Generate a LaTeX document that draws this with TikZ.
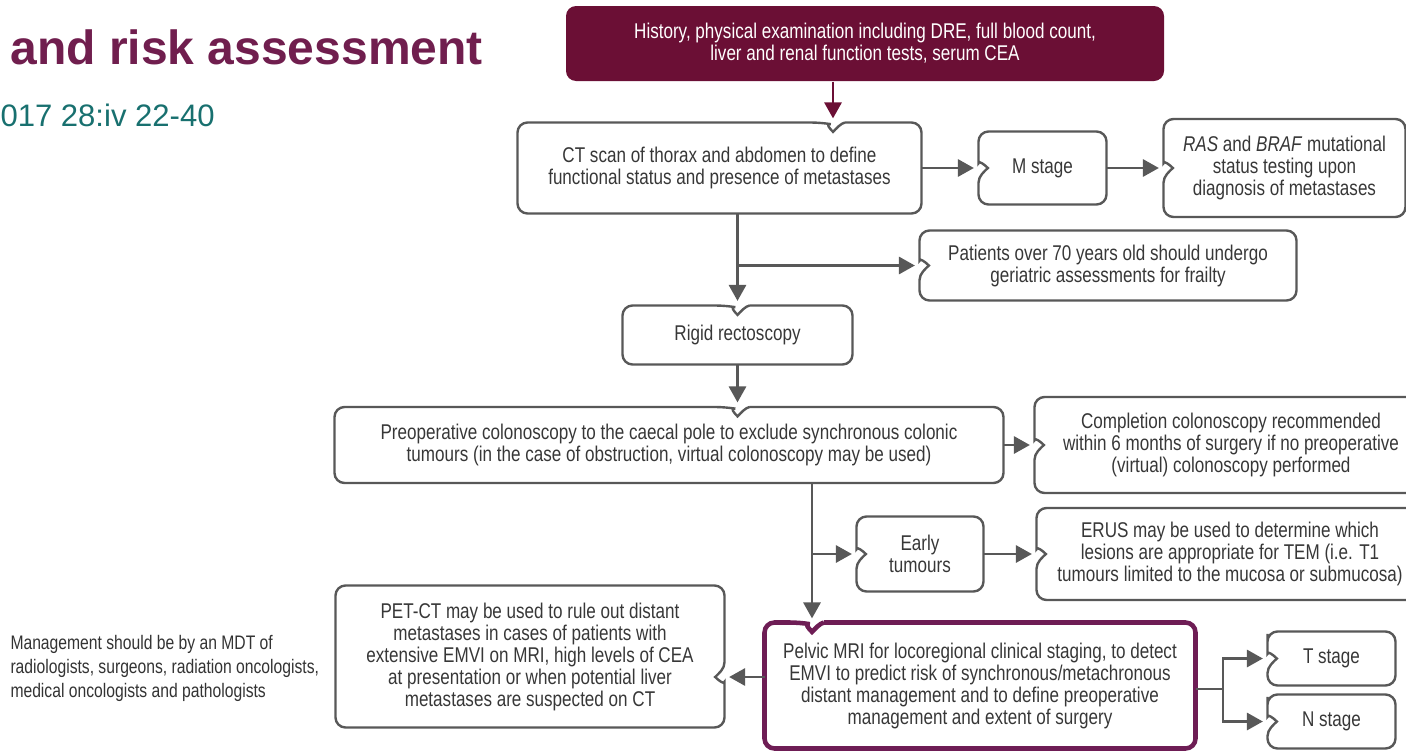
\documentclass[tikz,border=0pt]{standalone}
\usepackage{fontspec}
\setmainfont{Liberation Sans}
\newfontfamily\condfont[FakeStretch=0.80]{Liberation Sans}
\usetikzlibrary{arrows.meta,calc}

\definecolor{wine}{RGB}{107,15,53}
\definecolor{plum}{RGB}{112,30,78}
\definecolor{mriborder}{RGB}{110,29,85}
\definecolor{tealtext}{RGB}{24,112,111}
\definecolor{linegray}{RGB}{88,88,88}
\definecolor{txtgray}{RGB}{55,55,55}

\tikzset{every picture/.style={line width=0.75pt}}
\tikzset{
  boxtext/.style={inner sep=0pt, align=center, text=txtgray,
    font=\condfont\fontsize{16}{16.5}\selectfont},
  boxline/.style={draw=linegray, line width=1.8pt},
  mriline/.style={draw=mriborder, line width=3.4pt},
  conn/.style={draw=linegray, line width=1.7pt},
  arrow/.style={conn, -{Triangle[length=12pt,width=13pt]}, shorten >=3.5pt},
}

% outline with a notch where the arrow comes in
\newcommand{\notchtop}[3][boxline]{%
  \draw[#1] let \p1=(#2.north west), \p2=(#2.south east), \p3=(#3) in
    (\x3+9pt,\y1) [rounded corners=7.5pt] -- (\x2,\y1) -- (\x2,\y2) -- (\x1,\y2) -- (\x1,\y1) -- (\x3-9pt,\y1)
    [sharp corners] .. controls (\x3-6pt,\y1+0.5pt) and (\x3-2.5pt,\y1+4.5pt) .. (\x3,\y1+7pt)
    .. controls (\x3+2.5pt,\y1+4.5pt) and (\x3+6pt,\y1+0.5pt) .. (\x3+9pt,\y1);}
\newcommand{\notchleft}[3][boxline]{%
  \draw[#1] let \p1=(#2.north west), \p2=(#2.south east), \p3=(#3) in
    (\x1,\y3+11pt) [rounded corners=7.5pt] -- (\x1,\y2) -- (\x2,\y2) -- (\x2,\y1) -- (\x1,\y1) -- (\x1,\y3-11pt)
    [sharp corners] .. controls (\x1,\y3-6pt) and (\x1+4.5pt,\y3-2.5pt) .. (\x1+7pt,\y3)
    .. controls (\x1+4.5pt,\y3+2.5pt) and (\x1,\y3+6pt) .. (\x1,\y3+11pt);}
\newcommand{\notchright}[3][boxline]{%
  \draw[#1] let \p1=(#2.north west), \p2=(#2.south east), \p3=(#3) in
    (\x2,\y3-11pt) [rounded corners=7.5pt] -- (\x2,\y1) -- (\x1,\y1) -- (\x1,\y2) -- (\x2,\y2) -- (\x2,\y3+11pt)
    [sharp corners] .. controls (\x2,\y3+6pt) and (\x2-4.5pt,\y3+2.5pt) .. (\x2-7pt,\y3)
    .. controls (\x2-4.5pt,\y3-2.5pt) and (\x2,\y3-6pt) .. (\x2,\y3-11pt);}

\begin{document}
\begin{tikzpicture}[x=0.75pt,y=0.75pt,yscale=-1.0,xscale=1.0]
    \useasboundingbox (0,0) rectangle (1406,750);
    \clip (0,0) rectangle (1406,750);

    % Title
    \node[anchor=base west, inner sep=0pt, text=plum, font=\bfseries\fontsize{36}{40}\selectfont] (title) at (10,64) {and risk assessment};
    \node[anchor=base west, inner sep=0pt, text=tealtext, font=\fontsize{23.3}{26}\selectfont] (source) at (0,126) {017 28:iv 22-40};
    \node[anchor=west, inner sep=0pt, align=left, text=black!80, font=\condfont\fontsize{14.7}{18}\selectfont] (mdt) at (10,668) {Management should be by an MDT of\\radiologists, surgeons, radiation oncologists,\\medical oncologists and pathologists};

    % Text Node
    \node[boxtext, text=white, fill=wine, rounded corners=7.5pt, minimum width=448.5pt, minimum height=56.25pt] (hist) at (865,43.5) {History, physical examination including DRE, full blood count,\\liver and renal function tests, serum CEA};
    % Text Node
    \node[boxtext, minimum width=302.25pt, minimum height=67.5pt] (ct) at (719.5,168) {CT scan of thorax and abdomen to define\\functional status and presence of metastases};
    % Text Node
    \node[boxtext, minimum width=95.25pt, minimum height=54pt] (mst) at (1042.5,168) {M stage};
    % Text Node
    \node[boxtext, minimum width=180.75pt, minimum height=72.75pt] (ras) at (1284.5,168) {\textit{RAS} and \textit{BRAF} mutational\\status testing upon\\diagnosis of metastases};
    % Text Node
    \node[boxtext, minimum width=282pt, minimum height=51.75pt] (pat) at (1108,265.5) {Patients over 70 years old should undergo\\geriatric assessments for frailty};
    % Text Node
    \node[boxtext, minimum width=171.75pt, minimum height=43.5pt] (rigid) at (737.5,335) {Rigid rectoscopy};
    % Text Node
    \node[boxtext, minimum width=501pt, minimum height=56.25pt] (preop) at (669,445) {Preoperative colonoscopy to the caecal pole to exclude synchronous colonic\\tumours (in the case of obstruction, virtual colonoscopy may be used)};
    % Text Node
    \node[boxtext, minimum width=294pt, minimum height=71.25pt] (comp) at (1231,445) {Completion colonoscopy recommended\\within 6 months of surgery if no preoperative\\(virtual) colonoscopy performed};
    % Text Node
    \node[boxtext, minimum width=94.5pt, minimum height=55.5pt] (early) at (920,554) {Early\\tumours};
    % Text Node
    \node[boxtext, minimum width=289.5pt, minimum height=68.25pt] (erus) at (1230,554) {ERUS may be used to determine which\\lesions are appropriate for TEM (i.e. T1\\tumours limited to the mucosa or submucosa)};
    % Text Node
    \node[boxtext, minimum width=291pt, minimum height=105.75pt] (pet) at (530,656.5) {PET-CT may be used to rule out distant\\metastases in cases of patients with\\extensive EMVI on MRI, high levels of CEA\\at presentation or when potential liver\\metastases are suspected on CT};
    % Text Node
    \node[boxtext, minimum width=322.5pt, minimum height=93.75pt] (mri) at (980,685.5) {Pelvic MRI for locoregional clinical staging, to detect\\EMVI to predict risk of synchronous/metachronous\\distant management and to define preoperative\\management and extent of surgery};
    % Text Node
    \node[boxtext, minimum width=95.25pt, minimum height=39.75pt] (tst) at (1331.5,658.5) {T stage};
    % Text Node
    \node[boxtext, minimum width=95.25pt, minimum height=39.75pt] (nst) at (1331.5,721.5) {N stage};

    % entry points
    \coordinate (ctin) at (833,123);
    \coordinate (mriin) at (812,623);
    \coordinate (mriout) at (765,677);
    \coordinate (split) at (1223,689);

    % Outlines
    \notchtop{ct}{ctin}
    \notchleft{mst}{mst.west}
    \notchleft{ras}{ras.west}
    \notchleft{pat}{pat.west}
    \notchtop{rigid}{rigid.north}
    \notchtop{preop}{rigid.south |- preop.north}
    \notchleft{comp}{comp.west}
    \notchleft{early}{early.west}
    \notchleft{erus}{erus.west}
    \notchright{pet}{mriout -| pet.east}
    \notchtop[mriline]{mri}{mriin}
    \notchleft{tst}{tst.west}
    \notchleft{nst}{nst.west}

    % Connection
    \draw[arrow, draw=wine, -{Triangle[length=12pt,width=13pt]}] (hist.south -| ctin) -- (ctin);
    % Connection
    \draw[arrow] (ct.east) -- (mst.west);
    \draw[arrow] (mst.east) -- (ras.west);
    % Connection
    \draw[arrow] (ct.south -| rigid.north) -- (rigid.north);
    \draw[arrow] (ct.south -| rigid.north) |- (pat.west);
    % Connection
    \draw[arrow] (rigid.south) -- (rigid.south |- preop.north);
    \draw[arrow] (preop.east) -- (comp.west);
    % Connection
    \draw[arrow] (preop.south -| mriin) -- (mriin);
    \draw[arrow] (preop.south -| mriin) |- (early.west);
    \draw[arrow] (early.east) -- (erus.west);
    % Connection
    \draw[arrow] (mriout) -- (mriout -| pet.east);
    \draw[conn] (mri.east |- split) -- (split);
    \draw[arrow] (split) |- (tst.west);
    \draw[arrow] (split) |- (nst.west);
\end{tikzpicture}
\end{document}
